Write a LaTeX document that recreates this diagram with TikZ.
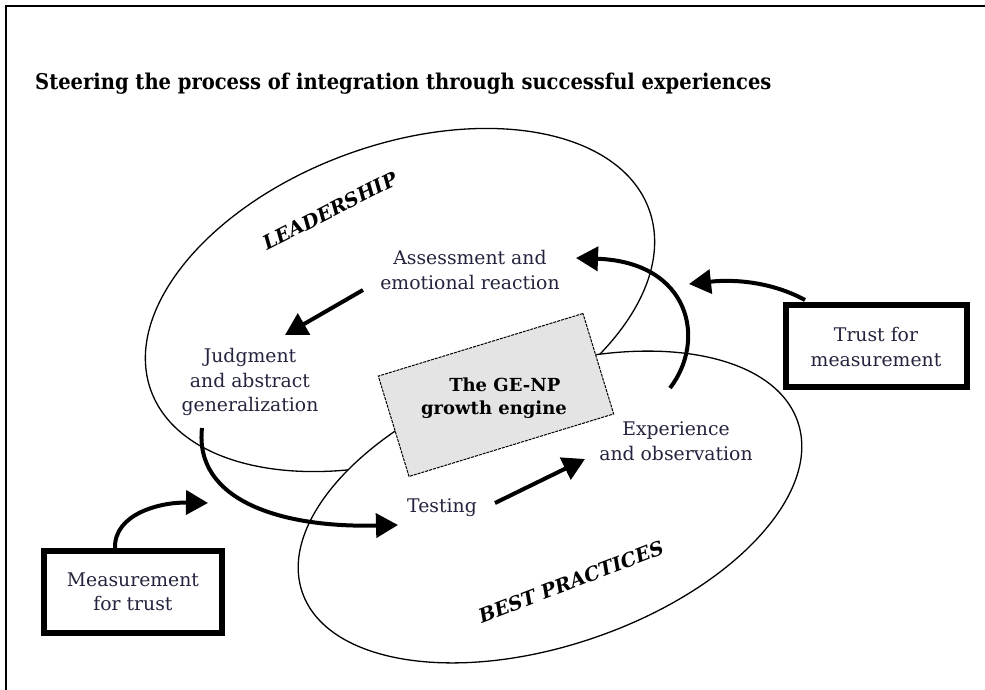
\documentclass[tikz,border=0pt]{standalone}
\usepackage{fontspec}
\setmainfont{DejaVu Serif}
\newfontfamily\condfont{DejaVu Serif Condensed}
\usetikzlibrary{arrows.meta}
\definecolor{inkc}{HTML}{24243E}
\definecolor{enginefill}{HTML}{E4E4E4}
\tikzset{
  body/.style={font=\fontsize{18.8}{24.5}\selectfont, text=inkc, align=center, inner sep=0pt},
  zone/.style={font=\fontsize{19.5}{22}\selectfont\bfseries\itshape, text=black, inner sep=0pt},
  ring/.style={draw=black, line width=1.3pt, fill=white},
  flow/.style={line width=4pt, -{Triangle[length=22pt,width=24pt]}},
  framebox/.style={draw=black, line width=6pt, fill=white, inner sep=0pt},
}
\begin{document}
\begin{tikzpicture}[x=1pt,y=-1pt]
\useasboundingbox (0,0) rectangle (985,690);
% page frame (left and top rules)
\draw[line width=2pt] (6,690) -- (6,6) -- (985,6);

% title
\node[anchor=west, inner sep=0pt, font=\condfont\fontsize{21.7}{24}\selectfont\bfseries] (title) at (35,84)
  {Steering the process of integration through successful experiences};

% the two overlapping fields
\draw[ring] (400,300) ellipse [x radius=265pt, y radius=155pt, rotate=20];
\draw[ring] (550,507) ellipse [x radius=262pt, y radius=138pt, rotate=19];

% central engine
\node[draw=black, line width=1pt, dash pattern=on 3pt off 1pt, fill=enginefill,
      minimum width=214pt, minimum height=105pt, rotate=17] (engine) at (496,395) {};
\node[font=\fontsize{18}{23}\selectfont\bfseries, align=center, inner sep=0pt] (enginetext) at (494,398)
  {\hspace*{1.2em}The GE-NP\\growth engine};

% field names
\node[zone, rotate=27] (leadership) at (330,211) {LEADERSHIP};
\node[zone, rotate=21] (bestpractices) at (571,582) {BEST PRACTICES};

% stages of the cycle
\node[body] (assess) at (470,270) {Assessment and\\emotional reaction};
\node[body] (judge) at (250,382) {Judgment\\and abstract\\generalization};
\node[body] (testing) at (442,508) {Testing};
\node[body] (exper) at (676,441) {Experience\\and observation};

% side boxes
\node[framebox, minimum width=181pt, minimum height=82pt] (trust) at (876,346) {};
\node[body] (trusttext) at (876,347) {Trust for\\measurement};
\node[framebox, minimum width=178pt, minimum height=82pt] (meas) at (133,592) {};
\node[body] (meastext) at (133,592) {Measurement\\for trust};

% connector end points
\coordinate (a1) at (363,290);
\coordinate (a2) at (285,335);
\coordinate (e1) at (670,388);
\coordinate (e2) at (576,258);
\coordinate (t1) at (805,300);
\coordinate (t2) at (689,284);
\coordinate (j1) at (202,428);
\coordinate (j2) at (398,525);
\coordinate (m1) at (115,548);
\coordinate (m2) at (208,503);
\coordinate (s1) at (495,503);
\coordinate (s2) at (585,459);

% cycle arrows
\draw[flow] (a1) -- (a2);
\draw[flow] (e1) .. controls (707,340) and (690,262) .. (e2);
\draw[flow] (t1) .. controls (772,282) and (735,279) .. (t2);
\draw[flow] (j1) .. controls (194,500) and (280,528) .. (j2);
\draw[flow] (m1) .. controls (114,514) and (160,502) .. (m2);
\draw[flow] (s1) -- (s2);
\end{tikzpicture}
\end{document}
